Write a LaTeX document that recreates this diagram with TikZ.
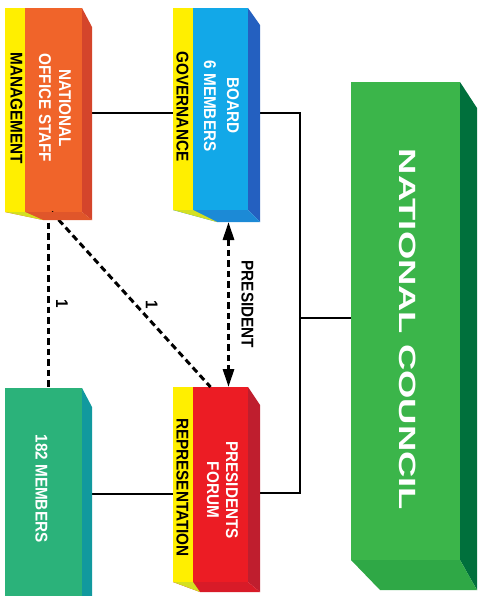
\documentclass[tikz,border=0pt]{standalone}
\usepackage{fontspec}
\usepackage{graphicx}
\setmainfont{Liberation Sans}
\newfontfamily\narrowfont{Liberation Sans}[FakeStretch=0.9]
\usetikzlibrary{arrows.meta,calc}
\definecolor{officefront}{HTML}{F0642A}
\definecolor{officeside}{HTML}{D4452B}
\definecolor{officebot}{HTML}{E0562A}
\definecolor{boardfront}{HTML}{12A8E8}
\definecolor{boardside}{HTML}{2460C0}
\definecolor{boardbot}{HTML}{1C8AD6}
\definecolor{forumfront}{HTML}{EC1C24}
\definecolor{forumside}{HTML}{BF1E2E}
\definecolor{forumbot}{HTML}{D81B28}
\definecolor{membersfront}{HTML}{2BB27A}
\definecolor{membersside}{HTML}{11999E}
\definecolor{councilfront}{HTML}{3BB54A}
\definecolor{councilside}{HTML}{00703C}
\definecolor{councilbot}{HTML}{2FA846}
\definecolor{tagyellow}{HTML}{FFEF00}
\definecolor{tagbot}{HTML}{D4E021}
\begin{document}
\begin{tikzpicture}[x=1pt, y=-1pt, face/.style={inner sep=0pt, outer sep=0pt}, tag/.style={face, fill=tagyellow, minimum width=20, anchor=north west}, txt/.style={rotate=-90, align=center, inner sep=0pt, font=\narrowfont\bfseries\fontsize{17}{20}\selectfont}, wire/.style={line width=2pt}, link/.style={line width=3pt, dash pattern=on 6.5pt off 4pt}, num/.style={rotate=-90, inner sep=0pt, font=\narrowfont\bfseries\fontsize{17}{18}\selectfont}, >={Triangle[length=18pt,width=11pt]}]
	\useasboundingbox (0,0) rectangle (477,596);
	% front faces
	\node[face, fill=officefront, minimum width=77, minimum height=204] (office) at (43.5,110) {};
	\node[face, fill=boardfront, minimum width=75, minimum height=202] (board) at (210.5,109) {};
	\node[face, fill=forumfront, minimum width=75, minimum height=195] (forum) at (210.5,484.5) {};
	\node[face, fill=membersfront, minimum width=77, minimum height=212] (members) at (43.5,494) {};
	\node[face, fill=councilfront, minimum width=109, minimum height=478] (council) at (405.5,321) {};
	\node[tag, minimum height=204] (officetag) at (office.north west) {};
	\node[tag, minimum height=202] (boardtag) at (board.north west) {};
	\node[tag, minimum height=195] (forumtag) at (forum.north west) {};
	% connectors
	\coordinate (bus) at (300,318);
	\draw[wire] ($(office.east)+(0,3)$) -- ($(boardtag.west)+(0,4)$);
	\draw[wire] ($(board.east)+(0,4)$) -| (bus) |- ($(forum.east)+(0,8)$);
	\draw[wire] (bus) -- (bus -| council.west);
	\draw[wire] (members.east) -- (members.east -| forumtag.west);
	\draw[link] ($(office.south)+(4.5,0)$) -- ($(members.north)+(4.5,0)$) node[pos=0.52, xshift=14pt, num] {1};
	\draw[link] ($(office.south)+(8,0)$) -- (forum.north) node[pos=0.53, xshift=16pt, num] {1};
	\draw[link, <->] ($(board.south)+(18,12)$) -- ($(forum.north)+(18,0)$) node[midway, xshift=19pt, num] {PRESIDENT};
	% side and bottom faces
	\foreach \n/\dx/\dy/\dz/\bx/\cs/\cb in {office/10/19/8/38/officeside/officebot, board/12/17/12/44/boardside/boardbot, forum/12/18/10/27/forumside/forumbot, members/10/19/8/38/membersside/membersside, council/17/26/30/29/councilside/councilbot}
	{
		\fill[\cs] (\n.north east) -- ++(\dx,\dy) -- ($(\n.south east)+(\dx,\dz)$) -- (\n.south east) -- cycle;
		\fill[\cb] (\n.south west) -- (\n.south east) -- ($(\n.south east)+(\dx,\dz)$) -- ($(\n.south west)+(\bx,\dz)$) -- cycle;
	}
	\foreach \t/\dz/\bx in {officetag/8/38, boardtag/12/44, forumtag/10/27}
		\fill[tagbot] (\t.south west) -- (\t.south east) -- ($(\t.south west)+(\bx,\dz)$) -- cycle;
	% texts
	\node[txt, text=white] (officetxt) at (55,108) {NATIONAL\\OFFICE STAFF};
	\node[txt] (officetagtxt) at (16.5,108) {MANAGEMENT};
	\node[txt, text=white, font=\narrowfont\bfseries\fontsize{17}{23}\selectfont] (boardtxt) at (221.5,106) {BOARD\\6 MEMBERS};
	\node[txt] (boardtagtxt) at (182.5,106.5) {GOVERNANCE};
	\node[txt, text=white, font=\narrowfont\bfseries\fontsize{17}{19}\selectfont] (forumtxt) at (222.5,490) {PRESIDENTS\\FORUM};
	\node[txt] (forumtagtxt) at (182.5,487.5) {REPRESENTATION};
	\node[txt, text=white] (memberstxt) at (41.5,488.5) {182 MEMBERS};
	\node[txt, text=white, font=\bfseries\fontsize{23.5}{26}\selectfont] (counciltxt) at (407.5,329.5) {\scalebox{1.55}[1]{NATIONAL COUNCIL}};
\end{tikzpicture}
\end{document}
